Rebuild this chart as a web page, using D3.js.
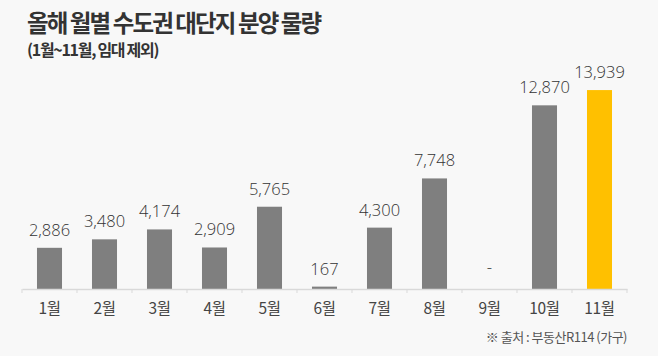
<!DOCTYPE html>
<html><head><meta charset="utf-8">
<script src="https://cdn.jsdelivr.net/npm/d3@7"></script>
<style>
html,body{margin:0;padding:0;background:#f8f8f8;}
svg{display:block;}
</style></head>
<body>
<svg id="c" width="658" height="356"></svg>
<script>
const months = ["1월","2월","3월","4월","5월","6월","7월","8월","9월","10월","11월"];
const values = [2886,3480,4174,2909,5765,167,4300,7748,0,12870,13939];
const highlight = ["11월"];
const title = "올해 월별 수도권 대단지 분양 물량";
const subtitle = "(1월~11월, 임대 제외)";
const source = "※ 출처 : 부동산R114 (가구)";

const svg = d3.select("#c");
svg.append("rect").attr("width",658).attr("height",356).attr("fill","#f8f8f8");

const x = d3.scaleBand().domain(months).range([22,627]).paddingInner(0.545).paddingOuter(0.2725);
const y = d3.scaleLinear().domain([0,14000]).range([289,89.2]);

svg.append("text").attr("x",27).attr("y",32).text(title)
  .attr("font-family","'Noto Sans CJK KR'").attr("font-weight",700).attr("font-size",23.5)
  .attr("letter-spacing","-1.9px").attr("fill","#333");
svg.append("text").attr("x",27).attr("y",56).text(subtitle)
  .attr("font-family","'Noto Sans CJK KR'").attr("font-weight",700).attr("font-size",16)
  .attr("letter-spacing","-1.3px").attr("fill","#333");

// bars
svg.selectAll("rect.bar").data(months).enter().append("rect").attr("class","bar")
  .attr("x",d=>x(d)).attr("width",x.bandwidth())
  .attr("y",(d,i)=>y(values[i])).attr("height",(d,i)=>y(0)-y(values[i]))
  .attr("fill",d=>highlight.includes(d)?"#ffc000":"#7f7f7f");

// axis
const axis = d3.axisBottom(x).tickSize(0).tickPadding(14);
const g = svg.append("g").attr("transform","translate(0,289)").call(axis);
g.select(".domain").attr("stroke","#d9d9d9").attr("stroke-width",1.5);
g.selectAll(".tick text").attr("font-family","'Noto Sans CJK KR'").attr("font-size",15.5)
  .attr("fill","#444").attr("letter-spacing","-0.3px");
// boundary ticks
const bounds = months.map(m=>x(m)-x.step()*x.paddingInner()/2).concat([627]);
bounds[0]=22;
g.selectAll("line.bt").data(bounds).enter().append("line").attr("class","bt")
  .attr("x1",d=>d).attr("x2",d=>d).attr("y1",0).attr("y2",4)
  .attr("stroke","#d9d9d9").attr("stroke-width",1);

// value labels
const fmt = d3.format(",");
svg.selectAll("text.val").data(months).enter().append("text").attr("class","val")
  .attr("x",d=>x(d)+x.bandwidth()/2)
  .attr("y",(d,i)=>values[i]===0? y(0)-16 : y(values[i])-12)
  .attr("text-anchor","middle")
  .attr("font-family","'Open Sans'").attr("font-weight",300).attr("font-size",16.5)
  .attr("fill","#333")
  .text((d,i)=>values[i]===0?"-":fmt(values[i]));

svg.append("text").attr("x",627).attr("y",342).attr("text-anchor","end").text(source)
  .attr("font-family","'Noto Sans CJK KR'").attr("font-size",13)
  .attr("letter-spacing","-0.5px").attr("fill","#555");
</script>
</body></html>
